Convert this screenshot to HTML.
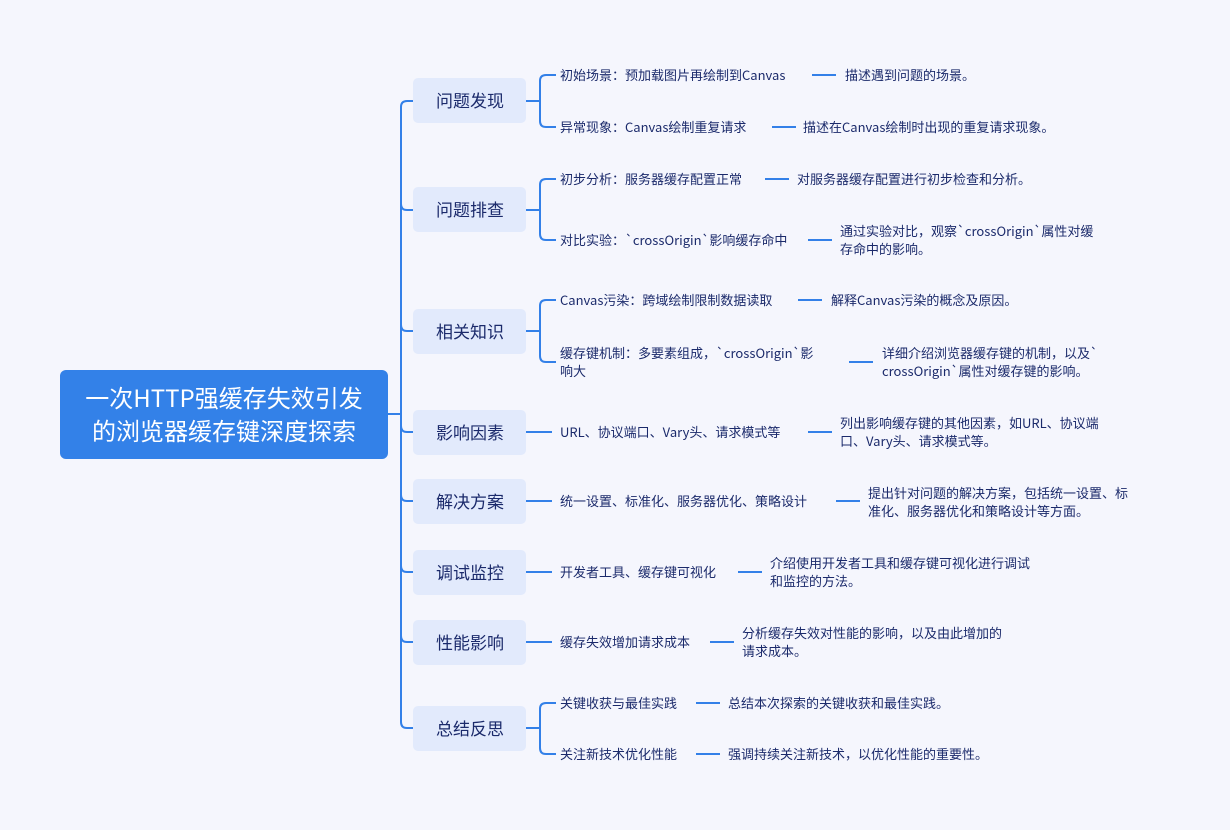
<!DOCTYPE html>
<html><head><meta charset="utf-8"><style>
html,body{margin:0;padding:0;background:#F5F6FD;}
svg{display:block;}
text{font-family:"Noto Sans CJK SC","Liberation Sans",sans-serif;}
.l{font-size:13px;fill:#1B2A6B;}
.b{font-size:17px;fill:#1B2A6B;text-anchor:middle;}
</style></head><body>
<svg width="1230" height="830" viewBox="0 0 1230 830" xmlns="http://www.w3.org/2000/svg">
<rect width="1230" height="830" fill="#F5F6FD"/>
<g fill="none" stroke="#3380E8" stroke-width="2">
<path d="M388 414 H401"/>
<path d="M413 101 H407 Q401 101 401 107 V722 Q401 728 407 728 H413"/>
<path d="M401 204 Q401 210 407 210 H413"/>
<path d="M401 325 Q401 331 407 331 H413"/>
<path d="M401 426 Q401 432 407 432 H413"/>
<path d="M401 495 Q401 501 407 501 H413"/>
<path d="M401 566 Q401 572 407 572 H413"/>
<path d="M401 636 Q401 642 407 642 H413"/>
<path d="M526 101 H540 M556 75 H546 Q540 75 540 81 V121 Q540 127 546 127 H556"/>
<path d="M526 210 H540 M556 179 H546 Q540 179 540 185 V234 Q540 240 546 240 H556"/>
<path d="M526 331 H540 M556 300 H546 Q540 300 540 306 V356 Q540 362 546 362 H556"/>
<path d="M526 432 H552"/>
<path d="M526 501 H552"/>
<path d="M526 572 H552"/>
<path d="M526 642 H552"/>
<path d="M526 728 H540 M556 703 H546 Q540 703 540 709 V748 Q540 754 546 754 H556"/>
<path d="M812 75 H836"/>
<path d="M772 127 H796"/>
<path d="M765 179 H789"/>
<path d="M808 240 H832"/>
<path d="M798 300 H822"/>
<path d="M849 362 H873"/>
<path d="M808 432 H832"/>
<path d="M836 501 H860"/>
<path d="M738 572 H762"/>
<path d="M710 642 H734"/>
<path d="M696 703 H720"/>
<path d="M696 754 H720"/>
</g>
<rect x="60" y="370" width="328" height="89" rx="6" fill="#3381E8"/>
<text x="224" y="407" font-size="24" fill="#fff" text-anchor="middle">一次HTTP强缓存失效引发</text>
<text x="224" y="440" font-size="24" fill="#fff" text-anchor="middle">的浏览器缓存键深度探索</text>
<g fill="#E2EAFC">
<rect x="413" y="78" width="113" height="45" rx="5"/>
<rect x="413" y="187" width="113" height="45" rx="5"/>
<rect x="413" y="309" width="113" height="45" rx="5"/>
<rect x="413" y="410" width="113" height="45" rx="5"/>
<rect x="413" y="479" width="113" height="45" rx="5"/>
<rect x="413" y="550" width="113" height="45" rx="5"/>
<rect x="413" y="620" width="113" height="45" rx="5"/>
<rect x="413" y="706" width="113" height="45" rx="5"/>
</g>
<text class="b" x="470" y="107">问题发现</text>
<text class="b" x="470" y="216">问题排查</text>
<text class="b" x="470" y="338">相关知识</text>
<text class="b" x="470" y="439">影响因素</text>
<text class="b" x="470" y="508">解决方案</text>
<text class="b" x="470" y="579">调试监控</text>
<text class="b" x="470" y="649">性能影响</text>
<text class="b" x="470" y="735">总结反思</text>
<g class="l">
<text class="l" x="560" y="80">初始场景：预加载图片再绘制到Canvas</text>
<text class="l" x="845" y="80">描述遇到问题的场景。</text>
<text class="l" x="560" y="132">异常现象：Canvas绘制重复请求</text>
<text class="l" x="803" y="132">描述在Canvas绘制时出现的重复请求现象。</text>
<text class="l" x="560" y="184">初步分析：服务器缓存配置正常</text>
<text class="l" x="797" y="184">对服务器缓存配置进行初步检查和分析。</text>
<text class="l" x="560" y="245">对比实验：`crossOrigin`影响缓存命中</text>
<text class="l" x="840" y="236">通过实验对比，观察`crossOrigin`属性对缓</text>
<text class="l" x="840" y="254">存命中的影响。</text>
<text class="l" x="560" y="305">Canvas污染：跨域绘制限制数据读取</text>
<text class="l" x="831" y="305">解释Canvas污染的概念及原因。</text>
<text class="l" x="560" y="358">缓存键机制：多要素组成，`crossOrigin`影</text>
<text class="l" x="560" y="376">响大</text>
<text class="l" x="882" y="358">详细介绍浏览器缓存键的机制，以及`</text>
<text class="l" x="882" y="376">crossOrigin`属性对缓存键的影响。</text>
<text class="l" x="560" y="437">URL、协议端口、Vary头、请求模式等</text>
<text class="l" x="840" y="428">列出影响缓存键的其他因素，如URL、协议端</text>
<text class="l" x="840" y="446">口、Vary头、请求模式等。</text>
<text class="l" x="560" y="506">统一设置、标准化、服务器优化、策略设计</text>
<text class="l" x="868" y="498">提出针对问题的解决方案，包括统一设置、标</text>
<text class="l" x="868" y="516">准化、服务器优化和策略设计等方面。</text>
<text class="l" x="560" y="577">开发者工具、缓存键可视化</text>
<text class="l" x="770" y="568">介绍使用开发者工具和缓存键可视化进行调试</text>
<text class="l" x="770" y="586">和监控的方法。</text>
<text class="l" x="560" y="647">缓存失效增加请求成本</text>
<text class="l" x="742" y="638">分析缓存失效对性能的影响，以及由此增加的</text>
<text class="l" x="742" y="656">请求成本。</text>
<text class="l" x="560" y="708">关键收获与最佳实践</text>
<text class="l" x="728" y="708">总结本次探索的关键收获和最佳实践。</text>
<text class="l" x="560" y="759">关注新技术优化性能</text>
<text class="l" x="728" y="759">强调持续关注新技术，以优化性能的重要性。</text>
</g>
</svg>
</body></html>
